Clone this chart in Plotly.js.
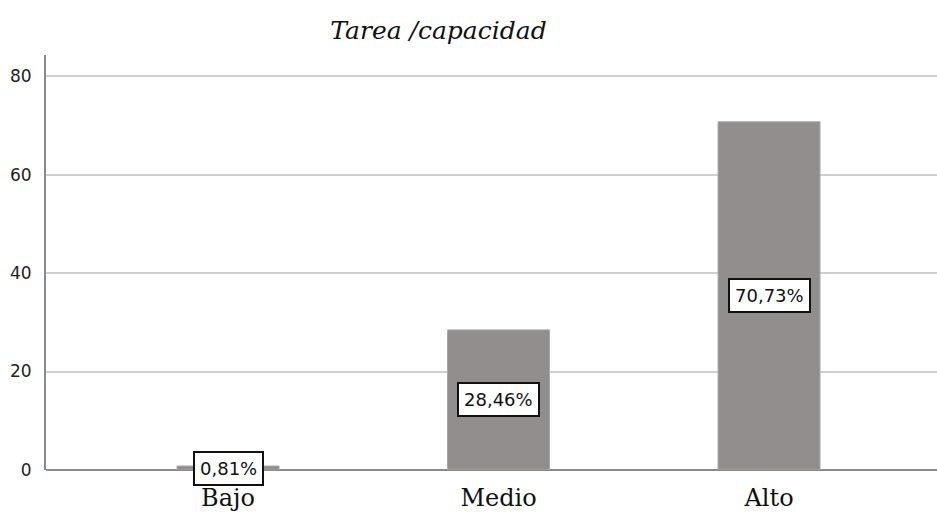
<!DOCTYPE html>
<html>
<head>
<meta charset="utf-8">
<script src="https://cdn.plot.ly/plotly-3.0.1.min.js"></script>
<style>html,body{margin:0;padding:0;background:#fff;}#chart{width:937px;height:514px;}</style>
</head>
<body>
<div id="chart"></div>
<script>
const categories = ["Bajo", "Medio", "Alto"];
const percents = [0.81, 28.46, 70.73];
const labels = ["0,81%", "28,46%", "70,73%"];
const yTicks = [0, 20, 40, 60, 80];

const trace = {
  type: "bar",
  x: categories,
  y: percents,
  width: 0.377,
  marker: {color: "#928e8d", line: {color: "#a9a6a5", width: 1}},
  hoverinfo: "skip"
};

const annotations = categories.map((c, i) => ({
  x: c, y: percents[i] / 2, xref: "x", yref: "y",
  text: labels[i], showarrow: false,
  font: {family: "DejaVu Sans, sans-serif", size: 18, color: "#111"},
  bgcolor: "#fff", bordercolor: "#111", borderwidth: 2, borderpad: 5
}));

const layout = {
  width: 937, height: 514,
  margin: {l: 46, r: 0, t: 55, b: 44},
  paper_bgcolor: "#fff", plot_bgcolor: "#fff",
  showlegend: false,
  title: {text: "<i>Tarea /capacidad</i>", x: 438.5/937, xanchor: "center", y: 1 - 30/514, yanchor: "middle",
          font: {family: "DejaVu Serif", size: 25, color: "#111"}},
  xaxis: {
    type: "category", range: [-0.673, 2.621],
    showgrid: false, showline: false, zeroline: false,
    ticks: "", ticklabelstandoff: 11,
    tickfont: {family: "DejaVu Serif", size: 24, color: "#111"}
  },
  yaxis: {
    range: [0, 84.3], tickvals: yTicks, ticktext: yTicks.map(String),
    showgrid: true, gridcolor: "#cfcfcf", gridwidth: 2,
    showline: true, linecolor: "#8a8a8a", linewidth: 2,
    zeroline: true, zerolinecolor: "#8a8a8a", zerolinewidth: 2,
    ticks: "", ticklabelstandoff: 9,
    tickfont: {family: "DejaVu Sans, sans-serif", size: 17, color: "#222"}
  },
  annotations: annotations
};

Plotly.newPlot("chart", [trace], layout, {displayModeBar: false, staticPlot: true});
</script>
</body>
</html>
